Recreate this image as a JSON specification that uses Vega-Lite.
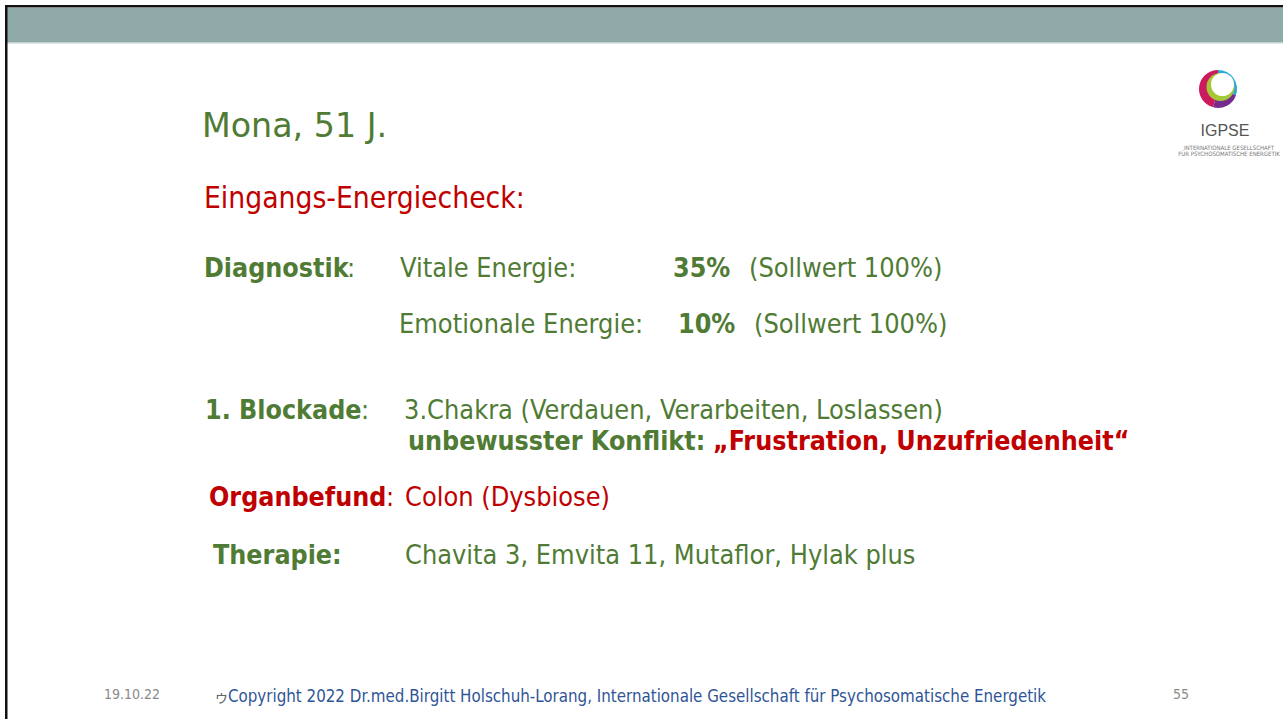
{
  "$schema": "https://vega.github.io/schema/vega-lite/v6.json",
  "width": 1283,
  "height": 719,
  "autosize": {"type": "fit", "contains": "padding"},
  "padding": 0,
  "background": "white",
  "config": {"view": {"stroke": null}},
  "datasets": {
    "frame": [
      {"part": "bar", "x": 7, "x2": 1283, "y": 8, "y2": 42},
      {"part": "barline", "x": 7, "x2": 1283, "y": 42, "y2": 43.5},
      {"part": "border", "x": 5, "x2": 1283, "y": 5, "y2": 7.5},
      {"part": "border", "x": 5, "x2": 7.5, "y": 5, "y2": 719}
    ],
    "logo": [
      {"part": "ring", "c": "cyan", "x": 1218, "y": 89, "a0": 0.0, "a1": 1.9},
      {"part": "ring", "c": "purple", "x": 1218, "y": 89, "a0": 1.9, "a1": 3.4},
      {"part": "ring", "c": "magenta", "x": 1218, "y": 89, "a0": 3.4, "a1": 6.2832},
      {"part": "inner", "c": "green", "x": 1220.5, "y": 87, "a0": 0, "a1": 6.2832},
      {"part": "hole", "c": "white", "x": 1222.5, "y": 84.5, "a0": 0, "a1": 6.2832}
    ],
    "txt": [
      {"k": "title", "t": "Mona, 51 J.", "x": 202, "y": 137},
      {"k": "sec", "t": "Eingangs-Energiecheck:", "x": 204, "y": 208},
      {"k": "gb", "t": "Diagnostik", "x": 204, "y": 277},
      {"k": "g", "t": ":", "x": 347, "y": 277},
      {"k": "g", "t": "Vitale Energie:", "x": 400, "y": 277},
      {"k": "gb", "t": "35%", "x": 673, "y": 277},
      {"k": "g", "t": "(Sollwert 100%)", "x": 749, "y": 277},
      {"k": "g", "t": "Emotionale Energie:", "x": 399, "y": 333},
      {"k": "gb", "t": "10%", "x": 678, "y": 333},
      {"k": "g", "t": "(Sollwert 100%)", "x": 754, "y": 333},
      {"k": "gb", "t": "1. Blockade", "x": 205, "y": 419},
      {"k": "g", "t": ":", "x": 361, "y": 419},
      {"k": "g", "t": "3.Chakra (Verdauen, Verarbeiten, Loslassen)", "x": 404, "y": 419},
      {"k": "gb", "t": "unbewusster Konflikt:", "x": 408, "y": 450},
      {"k": "rb", "t": "„Frustration, Unzufriedenheit“", "x": 713, "y": 450},
      {"k": "rb", "t": "Organbefund", "x": 209, "y": 506},
      {"k": "r", "t": ":", "x": 386, "y": 506},
      {"k": "r", "t": "Colon (Dysbiose)", "x": 405, "y": 506},
      {"k": "gb", "t": "Therapie:", "x": 213, "y": 564},
      {"k": "g", "t": "Chavita 3, Emvita 11, Mutaflor, Hylak plus", "x": 405, "y": 564},
      {"k": "fg", "t": "19.10.22", "x": 104, "y": 699},
      {"k": "sym", "t": "ゥ", "x": 214, "y": 702},
      {"k": "fb", "t": "Copyright 2022 Dr.med.Birgitt Holschuh-Lorang, Internationale Gesellschaft für Psychosomatische Energetik", "x": 228, "y": 702},
      {"k": "fg", "t": "55", "x": 1173, "y": 699},
      {"k": "logo", "t": "IGPSE", "x": 1225, "y": 136},
      {"k": "logos", "t": "INTERNATIONALE GESELLSCHAFT", "x": 1229, "y": 150},
      {"k": "logos", "t": "FÜR PSYCHOSOMATISCHE ENERGETIK", "x": 1229, "y": 156}
    ]
  },
  "encoding": {
    "x": {"field": "x", "type": "quantitative", "scale": {"domain": [0, 1283], "nice": false, "zero": false}, "axis": null},
    "y": {"field": "y", "type": "quantitative", "scale": {"domain": [0, 719], "nice": false, "zero": false, "reverse": true}, "axis": null}
  },
  "layer": [
    {
      "data": {"name": "frame"},
      "transform": [{"filter": "datum.part === 'bar'"}],
      "mark": {"type": "rect", "color": "#8faaa8"},
      "encoding": {"x2": {"field": "x2"}, "y2": {"field": "y2"}}
    },
    {
      "data": {"name": "frame"},
      "transform": [{"filter": "datum.part === 'barline'"}],
      "mark": {"type": "rect", "color": "#c3d2d1"},
      "encoding": {"x2": {"field": "x2"}, "y2": {"field": "y2"}}
    },
    {
      "data": {"name": "frame"},
      "transform": [{"filter": "datum.part === 'border'"}],
      "mark": {"type": "rect", "color": "#111111"},
      "encoding": {"x2": {"field": "x2"}, "y2": {"field": "y2"}}
    },
    {
      "data": {"name": "logo"},
      "transform": [{"filter": "datum.part === 'ring'"}],
      "mark": {"type": "arc", "outerRadius": 19, "innerRadius": 0},
      "encoding": {
        "theta": {"field": "a0", "type": "quantitative", "scale": null},
        "theta2": {"field": "a1"},
        "color": {"field": "c", "type": "nominal", "scale": {"domain": ["cyan", "purple", "magenta", "green", "white"], "range": ["#27a8d6", "#762b8e", "#cc1a5e", "#a6c836", "#ffffff"]}, "legend": null}
      }
    },
    {
      "data": {"name": "logo"},
      "transform": [{"filter": "datum.part === 'inner'"}],
      "mark": {"type": "arc", "outerRadius": 14, "innerRadius": 0},
      "encoding": {
        "theta": {"field": "a0", "type": "quantitative", "scale": null},
        "theta2": {"field": "a1"},
        "color": {"field": "c", "type": "nominal", "legend": null}
      }
    },
    {
      "data": {"name": "logo"},
      "transform": [{"filter": "datum.part === 'hole'"}],
      "mark": {"type": "arc", "outerRadius": 11.5, "innerRadius": 0},
      "encoding": {
        "theta": {"field": "a0", "type": "quantitative", "scale": null},
        "theta2": {"field": "a1"},
        "color": {"field": "c", "type": "nominal", "legend": null}
      }
    },
    {
      "data": {"name": "txt"},
      "transform": [{"filter": "datum.k === 'title'"}],
      "mark": {"type": "text", "align": "left", "baseline": "alphabetic", "font": "DejaVu Sans", "fontSize": 33.3, "color": "#4f7b34"},
      "encoding": {"text": {"field": "t"}}
    },
    {
      "data": {"name": "txt"},
      "transform": [{"filter": "datum.k === 'sec'"}],
      "mark": {"type": "text", "align": "left", "baseline": "alphabetic", "font": "DejaVu Sans Condensed", "fontSize": 29.7, "color": "#c00000"},
      "encoding": {"text": {"field": "t"}}
    },
    {
      "data": {"name": "txt"},
      "transform": [{"filter": "datum.k === 'g'"}],
      "mark": {"type": "text", "align": "left", "baseline": "alphabetic", "font": "DejaVu Sans Condensed", "fontSize": 26.9, "color": "#4f7b34"},
      "encoding": {"text": {"field": "t"}}
    },
    {
      "data": {"name": "txt"},
      "transform": [{"filter": "datum.k === 'gb'"}],
      "mark": {"type": "text", "align": "left", "baseline": "alphabetic", "font": "DejaVu Sans Condensed", "fontSize": 26.6, "fontWeight": "bold", "color": "#4f7b34"},
      "encoding": {"text": {"field": "t"}}
    },
    {
      "data": {"name": "txt"},
      "transform": [{"filter": "datum.k === 'r'"}],
      "mark": {"type": "text", "align": "left", "baseline": "alphabetic", "font": "DejaVu Sans Condensed", "fontSize": 26.9, "color": "#c00000"},
      "encoding": {"text": {"field": "t"}}
    },
    {
      "data": {"name": "txt"},
      "transform": [{"filter": "datum.k === 'rb'"}],
      "mark": {"type": "text", "align": "left", "baseline": "alphabetic", "font": "DejaVu Sans Condensed", "fontSize": 26.6, "fontWeight": "bold", "color": "#c00000"},
      "encoding": {"text": {"field": "t"}}
    },
    {
      "data": {"name": "txt"},
      "transform": [{"filter": "datum.k === 'fg'"}],
      "mark": {"type": "text", "align": "left", "baseline": "alphabetic", "font": "DejaVu Sans Condensed", "fontSize": 14, "color": "#8a8a8a"},
      "encoding": {"text": {"field": "t"}}
    },
    {
      "data": {"name": "txt"},
      "transform": [{"filter": "datum.k === 'sym'"}],
      "mark": {"type": "text", "align": "left", "baseline": "alphabetic", "font": "Noto Sans CJK JP", "fontSize": 15, "color": "#666666"},
      "encoding": {"text": {"field": "t"}}
    },
    {
      "data": {"name": "txt"},
      "transform": [{"filter": "datum.k === 'fb'"}],
      "mark": {"type": "text", "align": "left", "baseline": "alphabetic", "font": "DejaVu Sans Condensed", "fontSize": 16.8, "color": "#2f5597"},
      "encoding": {"text": {"field": "t"}}
    },
    {
      "data": {"name": "txt"},
      "transform": [{"filter": "datum.k === 'logo'"}],
      "mark": {"type": "text", "align": "center", "baseline": "alphabetic", "font": "Liberation Sans", "fontSize": 16, "color": "#555555"},
      "encoding": {"text": {"field": "t"}}
    },
    {
      "data": {"name": "txt"},
      "transform": [{"filter": "datum.k === 'logos'"}],
      "mark": {"type": "text", "align": "center", "baseline": "alphabetic", "font": "DejaVu Sans Condensed", "fontSize": 6, "color": "#777777"},
      "encoding": {"text": {"field": "t"}}
    }
  ]
}
